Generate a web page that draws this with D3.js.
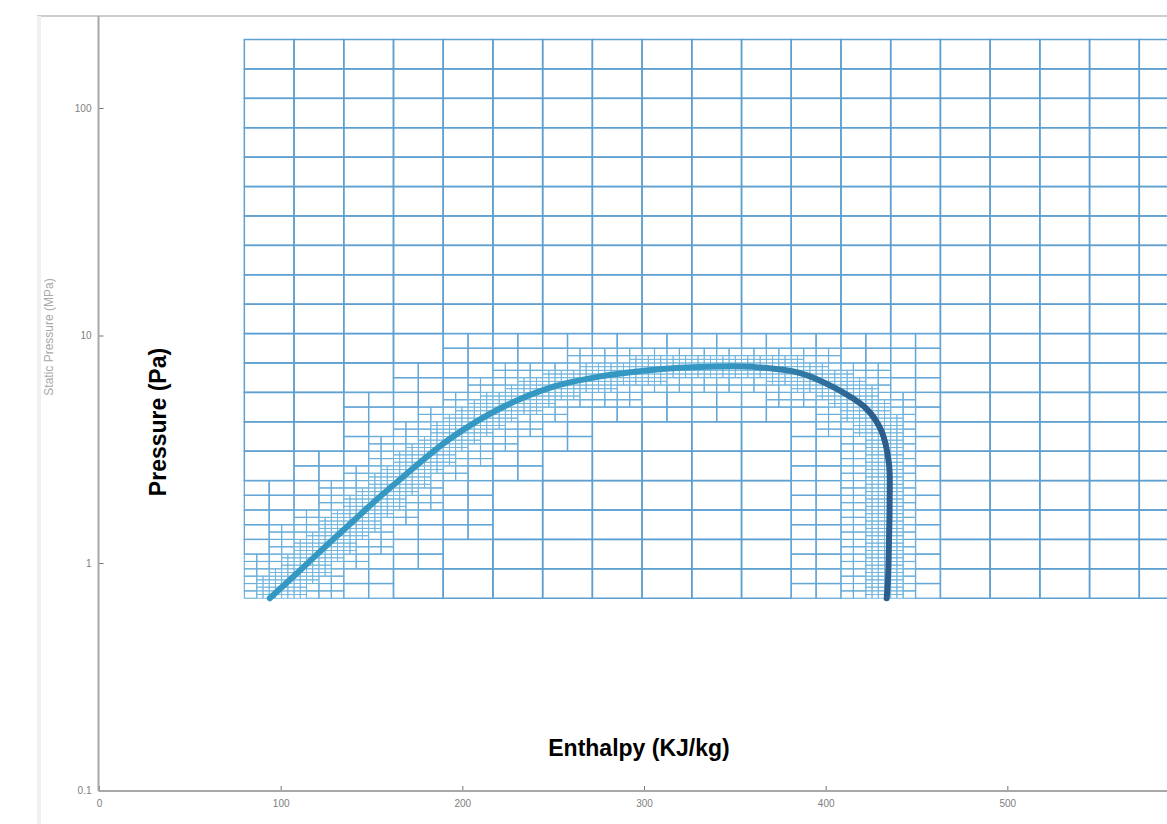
<!DOCTYPE html>
<html>
<head>
<meta charset="utf-8">
<script src="https://cdn.jsdelivr.net/npm/d3@7"></script>
<style>
  body { margin: 0; background: #fff; }
  svg { display: block; }
  text { font-family: "Liberation Sans", Arial, sans-serif; }
</style>
</head>
<body>
<svg id="chart" width="1167" height="824"></svg>
<script>
// saturation dome, liquid branch first then vapour branch (h in kJ/kg, p in MPa)
var satH = [94, 109, 127, 140, 153, 166, 193, 221, 248, 276, 300, 320, 340, 360, 386, 404, 422, 430.5, 434.8, 435.2, 434.8, 434.3, 433.6];
var satP = [0.70, 0.902, 1.23, 1.53, 1.905, 2.34, 3.51, 4.79, 5.89, 6.61, 7.0, 7.21, 7.31, 7.28, 6.84, 5.94, 4.80, 3.84, 2.75, 1.9, 1.2, 0.85, 0.70];

var xTicks = [0, 100, 200, 300, 400, 500];
var yMajor = [0.1, 1, 10, 100];
var yMinor = [0.2, 0.3, 0.4, 0.5, 0.6, 0.7, 0.8, 0.9, 2, 3, 4, 5, 6, 7, 8, 9,
              20, 30, 40, 50, 60, 70, 80, 90, 200];

// base mesh: enthalpy range, pressure range, cell counts, refinement depth
var meshH = [80, 600];
var meshP = [0.7, 200];
var meshCols = 19, meshRows = 19, maxLevel = 3;

var svg = d3.select("#chart"),
    width = +svg.attr("width"),
    height = +svg.attr("height");

var x = d3.scaleLinear().domain([0, 600]).range([99, 1189]);
var y = d3.scaleLog().domain([0.1, 100]).range([790.5, 108]);

var axisX = 98.5, axisY = 791, topY = 16;

// figure frame
svg.append("line").attr("x1", 37).attr("x2", width).attr("y1", topY).attr("y2", topY)
   .attr("stroke", "#bdbdbd").attr("stroke-width", 1.5);
svg.append("line").attr("x1", 39).attr("x2", 39).attr("y1", topY).attr("y2", height)
   .attr("stroke", "#f0f0f0").attr("stroke-width", 4);

var defs = svg.append("defs");
var grad = defs.append("linearGradient").attr("id", "curveGrad")
   .attr("gradientUnits", "userSpaceOnUse")
   .attr("x1", x(345)).attr("x2", x(425)).attr("y1", 0).attr("y2", 0);
grad.append("stop").attr("offset", 0).attr("stop-color", "#3598c2");
grad.append("stop").attr("offset", 1).attr("stop-color", "#2c5d8c");

var pts = satH.map(function(h, i) { return [x(h), y(satP[i])]; });
var line = d3.line().curve(d3.curveCatmullRom.alpha(0.5));

// hidden path used to sample the curve for the mesh refinement
var probe = svg.append("path").attr("d", line(pts)).attr("fill", "none").attr("stroke", "none");
var len = probe.node().getTotalLength();
var samples = [];
for (var s = 0; s <= len; s += 0.5) {
  var p = probe.node().getPointAtLength(s);
  samples.push([p.x, p.y]);
}
probe.remove();

var gx0 = x(meshH[0]), gx1 = x(meshH[1]),
    gyTop = y(meshP[1]), gyBot = y(meshP[0]);
var cw = (gx1 - gx0) / meshCols, ch = (gyBot - gyTop) / meshRows;

// a cell is split when the curve runs through it or through a neighbour
function hits(cx, cy, w, h) {
  var l = cx - w, r = cx + 2 * w, t = cy - h, b = cy + 2 * h;
  return samples.some(function(q) { return q[0] >= l && q[0] <= r && q[1] >= t && q[1] <= b; });
}

var cells = [];
function split(cx, cy, w, h, level) {
  if (level < maxLevel && hits(cx, cy, w, h)) {
    var w2 = w / 2, h2 = h / 2;
    split(cx, cy, w2, h2, level + 1);
    split(cx + w2, cy, w2, h2, level + 1);
    split(cx, cy + h2, w2, h2, level + 1);
    split(cx + w2, cy + h2, w2, h2, level + 1);
  } else {
    cells.push({x: cx, y: cy, w: w, h: h, level: level});
  }
}
for (var i = 0; i < meshCols; i++) {
  for (var j = 0; j < meshRows; j++) {
    split(gx0 + i * cw, gyTop + j * ch, cw, ch, 0);
  }
}

var lvlColor = ["#5d9fd0", "#64a6d6", "#6aaed9", "#74b6dd"];
var lvlWidth = [1.5, 1.3, 1.1, 0.9];

cells.sort(function(a, b) { return a.level - b.level; });
svg.append("g").attr("class", "mesh")
  .selectAll("rect")
  .data(cells)
  .enter().append("rect")
    .attr("x", function(d) { return d.x; })
    .attr("y", function(d) { return d.y; })
    .attr("width", function(d) { return d.w; })
    .attr("height", function(d) { return d.h; })
    .attr("fill", "none")
    .attr("stroke", function(d) { return lvlColor[d.level]; })
    .attr("stroke-width", function(d) { return lvlWidth[d.level]; });

svg.append("path")
  .attr("d", line(pts))
  .attr("fill", "none")
  .attr("stroke", "url(#curveGrad)")
  .attr("stroke-width", 6)
  .attr("stroke-linecap", "round");

// axes
var yAxisG = svg.append("g").attr("transform", "translate(" + axisX + ",0)");
yAxisG.call(d3.axisLeft(y).tickValues(yMinor).tickSize(-3).tickFormat(""));
yAxisG.call(d3.axisLeft(y).tickValues(yMajor).tickSize(-5).tickPadding(7)
   .tickFormat(function(d) { return d < 1 ? d3.format(".1f")(d) : d3.format("d")(d); }));

var xAxisG = svg.append("g").attr("transform", "translate(0," + axisY + ")");
xAxisG.call(d3.axisBottom(x).tickValues(xTicks).tickSize(-5).tickPadding(9));

svg.selectAll(".domain").remove();
svg.selectAll(".tick line").attr("stroke", "#777").attr("stroke-width", 1);
svg.selectAll(".tick text").attr("fill", "#808080").style("font-size", "10px");

svg.append("line").attr("x1", axisX).attr("x2", axisX).attr("y1", topY).attr("y2", axisY)
   .attr("stroke", "#a8a8a8").attr("stroke-width", 2);
svg.append("line").attr("x1", axisX).attr("x2", width).attr("y1", axisY).attr("y2", axisY)
   .attr("stroke", "#a8a8a8").attr("stroke-width", 2);

// labels
svg.append("text")
  .attr("transform", "translate(53,337) rotate(-90)")
  .attr("text-anchor", "middle")
  .attr("fill", "#a8a8a8")
  .style("font-size", "12px")
  .text("Static Pressure (MPa)");

svg.append("text")
  .attr("transform", "translate(166,422) rotate(-90)")
  .attr("text-anchor", "middle")
  .attr("fill", "#000")
  .style("font-size", "23px")
  .style("font-weight", "bold")
  .text("Pressure (Pa)");

svg.append("text")
  .attr("x", 639)
  .attr("y", 756)
  .attr("text-anchor", "middle")
  .attr("fill", "#000")
  .style("font-size", "23px")
  .style("font-weight", "bold")
  .text("Enthalpy (KJ/kg)");
</script>
</body>
</html>
